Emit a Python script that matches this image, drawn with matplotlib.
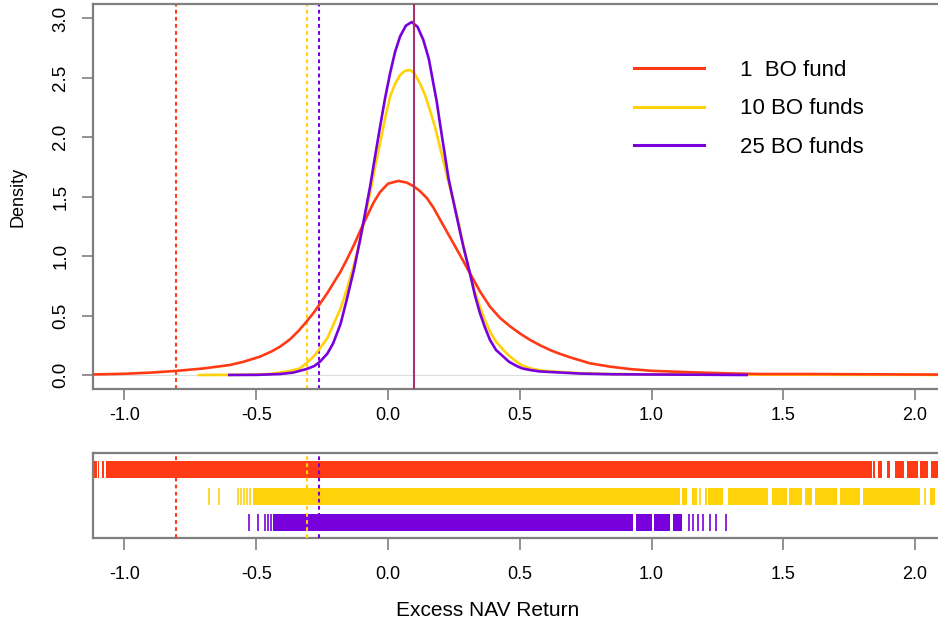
import matplotlib
matplotlib.use("Agg")
import matplotlib.pyplot as plt
from matplotlib.lines import Line2D

plt.rcParams['font.family'] = ['Liberation Sans', 'DejaVu Sans']

# ---------------- data ----------------
labels = ["1  BO fund", "10 BO funds", "25 BO funds"]
colors = ["#FF3A14", "#FFD20A", "#7700DD"]

red_x = [-1.13, -1.0, -0.9, -0.805, -0.7, -0.6, -0.55, -0.486, -0.44, -0.41, -0.372,
         -0.34, -0.309, -0.28, -0.258, -0.23, -0.208, -0.18, -0.157, -0.13, -0.106,
         -0.081, -0.055, -0.03, 0.0, 0.039, 0.07, 0.096, 0.12, 0.147, 0.172,
         0.197, 0.235, 0.273, 0.311, 0.35, 0.387, 0.425, 0.463, 0.50, 0.539, 0.577,
         0.615, 0.65, 0.69, 0.767, 0.843, 0.918,
         1.0, 1.159, 1.3, 1.41, 1.6, 1.8, 2.0, 2.14]
red_y = [0.004, 0.01, 0.02, 0.034, 0.055, 0.084, 0.11, 0.154, 0.20, 0.238, 0.30,
         0.37, 0.449, 0.53, 0.60, 0.69, 0.77, 0.87, 0.968, 1.09, 1.21,
         1.33, 1.45, 1.54, 1.61, 1.633, 1.62, 1.59, 1.55, 1.49, 1.41,
         1.31, 1.16, 1.01, 0.856, 0.70, 0.575, 0.48, 0.41, 0.35, 0.295, 0.25,
         0.21, 0.18, 0.149, 0.098, 0.07, 0.05,
         0.035, 0.022, 0.013, 0.008, 0.008, 0.006, 0.004, 0.003]

yel_x = [-0.717, -0.6, -0.5, -0.45, -0.41, -0.37, -0.334, -0.309, -0.28, -0.258, -0.23,
         -0.208, -0.18, -0.157, -0.13, -0.106, -0.087, -0.068, -0.049, -0.03, -0.011,
         0.008, 0.027, 0.046, 0.065, 0.083, 0.10, 0.121, 0.14, 0.159, 0.178, 0.197,
         0.23, 0.261, 0.286, 0.311, 0.33, 0.349, 0.368, 0.387, 0.41, 0.438, 0.46, 0.488,
         0.51, 0.539, 0.575, 0.615, 0.729, 0.85, 1.0, 1.2,
         1.4, 1.7, 2.0, 2.115]
yel_y = [0.0, 0.001, 0.004, 0.008, 0.02, 0.035, 0.056, 0.10, 0.16, 0.225, 0.31,
         0.42, 0.56, 0.715, 0.92, 1.136, 1.33, 1.53, 1.75, 1.95, 2.16,
         2.343, 2.45, 2.525, 2.56, 2.567, 2.54, 2.455, 2.36, 2.23, 2.09, 1.92,
         1.62, 1.35, 1.09, 0.856, 0.70, 0.575, 0.46, 0.365, 0.28, 0.21, 0.16, 0.112,
         0.08, 0.056, 0.04, 0.031, 0.015, 0.008, 0.005, 0.003,
         0.003, 0.002, 0.002, 0.0]

pur_x = [-0.602, -0.5, -0.41, -0.36, -0.309, -0.28, -0.258, -0.23, -0.208, -0.18,
         -0.157, -0.13, -0.106, -0.087, -0.068, -0.049, -0.03, -0.011,
         0.008, 0.027, 0.046, 0.068, 0.09, 0.112, 0.134, 0.155, 0.172, 0.185, 0.197,
         0.23, 0.261, 0.286, 0.311, 0.33, 0.349, 0.368, 0.387, 0.41, 0.438, 0.46,
         0.488, 0.51, 0.539, 0.575, 0.615, 0.729, 0.85, 1.0, 1.2, 1.361]
pur_y = [0.0, 0.001, 0.008, 0.02, 0.05, 0.075, 0.112, 0.18, 0.267, 0.43,
         0.63, 0.88, 1.136, 1.36, 1.585, 1.84, 2.09, 2.33,
         2.54, 2.72, 2.85, 2.94, 2.97, 2.93, 2.82, 2.66, 2.455, 2.30, 2.12,
         1.65, 1.33, 1.08, 0.856, 0.67, 0.52, 0.40, 0.295, 0.21, 0.154, 0.11,
         0.076, 0.055, 0.042, 0.03, 0.025, 0.012, 0.006, 0.004, 0.002, 0.0]

# dotted reference lines (per series) and solid reference line
dotted_x = [-0.805, -0.309, -0.261]
solid_x = 0.10

# rug: solid spans (start, end) and isolated ticks, per series
red_spans = [(-1.118, -1.104), (-1.099, -1.096), (-1.087, -1.078), (-1.071, 1.835),
             (1.842, 1.848), (1.861, 1.873), (1.892, 1.905), (1.924, 1.96),
             (1.97, 2.01), (2.02, 2.05), (2.06, 2.13)]
red_ticks = []
yel_spans = [(-0.512, 1.108), (1.115, 1.133), (1.153, 1.171), (1.203, 1.209),
             (1.216, 1.273), (1.289, 1.443), (1.456, 1.513), (1.523, 1.570),
             (1.582, 1.608), (1.620, 1.703), (1.715, 1.791), (1.804, 2.019),
             (2.057, 2.076)]
yel_ticks = [-0.678, -0.640, -0.570, -0.558, -0.547, -0.535, -0.525, 1.184, 2.038]
pur_spans = [(-0.435, 0.93), (0.94, 1.0), (1.01, 1.07), (1.08, 1.115)]
pur_ticks = [-0.526, -0.495, -0.467, -0.454, -0.444, 1.142, 1.158, 1.177, 1.196,
             1.222, 1.245, 1.283]

xticks = [-1.0, -0.5, 0.0, 0.5, 1.0, 1.5, 2.0]
yticks = [0.0, 0.5, 1.0, 1.5, 2.0, 2.5, 3.0]

# ---------------- figure ----------------
W, H = 938, 625
fig = plt.figure(figsize=(W / 100, H / 100), dpi=100)

x_left_px, x_right_px = 93, 950
xlim = (-1.1195, 2.1328)
spine_c = "#7f7f7f"
aw = (x_right_px - x_left_px)

ax = fig.add_axes([x_left_px / W, 1 - 389 / H, aw / W, (389 - 4) / H])
ax.set_xlim(*xlim)
ax.set_ylim(-0.118, 3.122)

ax.axhline(0, color="#dddddd", lw=0.8, zorder=1)
ax.plot(yel_x, yel_y, color=colors[1], lw=1.9, zorder=3, solid_joinstyle='round')
ax.plot(red_x, red_y, color=colors[0], lw=1.9, zorder=4, solid_joinstyle='round')
ax.plot(pur_x, pur_y, color=colors[2], lw=1.9, zorder=5, solid_joinstyle='round')
for xv, c in zip(dotted_x, colors):
    ax.axvline(xv, color=c, lw=1.5, ls=(0, (1.8, 1.6)), zorder=2)
ax.axvline(solid_x, color="#A8336B", lw=1.5, zorder=6)

for s in ax.spines.values():
    s.set_color(spine_c)
    s.set_linewidth(1.6)
ax.set_xticks(xticks)
ax.set_xticklabels([f"{v:.1f}" for v in xticks])
ax.set_yticks(yticks)
ax.set_yticklabels([f"{v:.1f}" for v in yticks])
ax.tick_params(axis='x', length=8, width=1.2, color=spine_c, pad=5, labelsize=13)
ax.tick_params(axis='y', length=8, width=1.2, color=spine_c, pad=9, labelsize=13.5,
               labelrotation=90)
for t in ax.get_yticklabels():
    t.set_va('center')

handles = [Line2D([0], [0], color=c, lw=2.2) for c in colors]
ax.legend(handles, labels, loc='upper left',
          bbox_to_anchor=((614 - x_left_px) / aw, 1 - (40 - 4) / 385),
          frameon=False, fontsize=16, handlelength=3.15, handletextpad=1.6,
          labelspacing=0.78)

# ---------------- rug panel ----------------
ax2 = fig.add_axes([x_left_px / W, 1 - 538 / H, aw / W, (538 - 453) / H])
ax2.set_xlim(*xlim)
ax2.set_ylim(0, 1)
rows = [(0.709, 0.2), (0.388, 0.204), (0.082, 0.2)]
for spans, ticks, c, (y0, h) in zip([red_spans, yel_spans, pur_spans],
                                    [red_ticks, yel_ticks, pur_ticks], colors, rows):
    ax2.broken_barh([(a, b - a) for a, b in spans], (y0, h), facecolor=c, edgecolor='none')
    ax2.vlines(ticks, y0, y0 + h, color=c, lw=1.2)
for xv, c in zip(dotted_x, colors):
    ax2.axvline(xv, color=c, lw=1.5, ls=(0, (1.8, 1.6)), zorder=5)
for s in ax2.spines.values():
    s.set_color(spine_c)
    s.set_linewidth(1.6)
ax2.set_yticks([])
ax2.set_xticks(xticks)
ax2.set_xticklabels([f"{v:.1f}" for v in xticks])
ax2.tick_params(axis='x', length=8.5, width=1.2, color=spine_c, pad=12, labelsize=13)

fig.text(18 / W, 1 - 197 / H, "Density", rotation=90, ha='center', va='center', fontsize=13)
fig.text(488 / W, 1 - 610 / H, "Excess NAV Return", ha='center', va='center', fontsize=15)

fig.savefig("out.png", dpi=100)
